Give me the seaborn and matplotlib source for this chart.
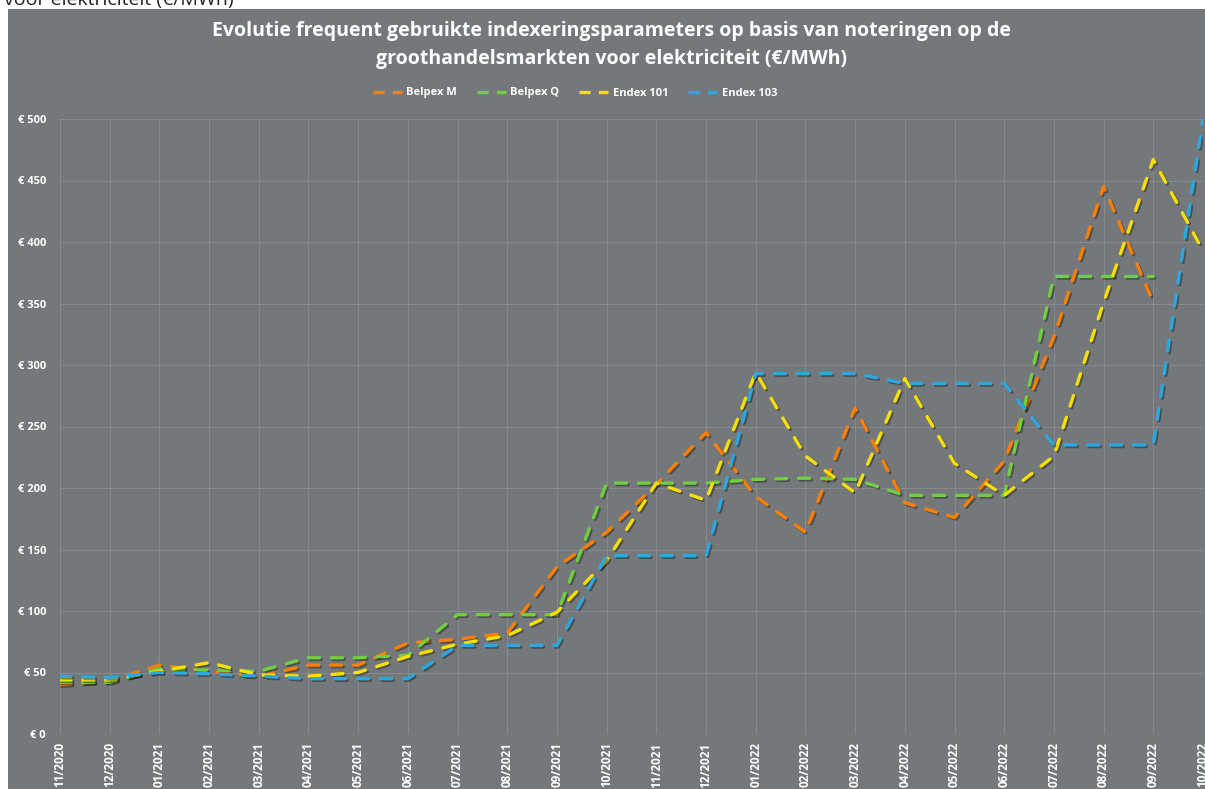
import numpy as np
import pandas as pd
import matplotlib
matplotlib.use('Agg')
import matplotlib.pyplot as plt
import matplotlib.patheffects as pe
from matplotlib.patches import Rectangle
import seaborn as sns


MONTHS = ['11/2020', '12/2020', '01/2021', '02/2021', '03/2021', '04/2021',
          '05/2021', '06/2021', '07/2021', '08/2021', '09/2021', '10/2021',
          '11/2021', '12/2021', '01/2022', '02/2022', '03/2022', '04/2022',
          '05/2022', '06/2022', '07/2022', '08/2022', '09/2022', '10/2022']

BELPEX_M = [40, 43, 56, 51, 47, 56, 56, 74, 77, 82, 136, 164,
            203, 245, 193, 164, 265, 188, 176, 222, 323, 445, 351, np.nan]
BELPEX_Q = [42, 42, 53, 52, 51, 62, 62, 64, 97, 97, 97, 204,
            204, 204, 207, 208, 207, 194, 194, 194, 372, 372, 372, np.nan]
ENDEX_101 = [44, 44, 51, 58, 48, 47, 50, 63, 73, 80, 99, 141,
             204, 190, 294, 226, 196, 289, 220, 194, 226, 351, 467, 393]
ENDEX_103 = [47, 46, 50, 49, 47, 45, 45, 45, 72, 72, 72, 145,
             145, 145, 293, 293, 293, 285, 285, 285, 235, 235, 235, 500]

SERIES = ['Belpex M', 'Belpex Q', 'Endex 101', 'Endex 103']
COLORS = ['#FF8000', '#6FCF3F', '#F7E000', '#2BA8E0']

Y_TICKS = list(range(0, 501, 50))

BG = '#75787B'
GRID = '#868A8D'


def main():
    W, H = 1205, 789
    matplotlib.rcParams['lines.scale_dashes'] = False

    # long form table for seaborn
    frames = []
    for name, vals in zip(SERIES, [BELPEX_M, BELPEX_Q, ENDEX_101, ENDEX_103]):
        frames.append(pd.DataFrame({'idx': np.arange(len(MONTHS)), 'maand': MONTHS,
                                    'waarde': vals, 'reeks': name}))
    data = pd.concat(frames).dropna()

    fig = plt.figure(figsize=(W / 100, H / 100), dpi=100, facecolor='white')
    fig.patches.append(Rectangle((8 / W, 0), 1, 1 - 9 / H, transform=fig.transFigure,
                                 facecolor=BG, edgecolor='none', zorder=-10))
    # text cut off by the top of the screenshot
    fig.text(0.003, 1 - 5 / H, 'voor elektriciteit (€/MWh)', fontsize=14,
             family='Open Sans', color='#222222', ha='left', va='baseline')

    ax = fig.add_axes([60 / W, 1 - 734 / H, (1203 - 60) / W, (734 - 119) / H])
    ax.set_facecolor(BG)

    sns.lineplot(data=data, x='idx', y='waarde', hue='reeks', style='reeks',
                 palette=dict(zip(SERIES, COLORS)),
                 dashes={s: (8, 8.5) for s in SERIES},
                 linewidth=2.4, sort=False, legend=False, ax=ax)
    for line in ax.get_lines():
        line.set_dash_capstyle('round')
        line.set_path_effects([pe.SimpleLineShadow(offset=(1.2, -1.2), alpha=0.35),
                               pe.Normal()])

    ax.set_xlim(0, len(MONTHS) - 1)
    ax.set_ylim(0, 500)
    ax.set_xticks(range(len(MONTHS)))
    ax.set_xticklabels(MONTHS, rotation=90, fontsize=8.5, fontweight='bold',
                       color='white', family='Open Sans')
    ax.set_yticks(Y_TICKS)
    ax.set_yticklabels(['€ %d' % v for v in Y_TICKS], fontsize=8, fontweight='bold',
                       color='white', family='Open Sans')
    ax.tick_params(length=0, pad=10)
    ax.tick_params(axis='x', pad=6)
    ax.grid(True, color=GRID, linewidth=0.8)
    ax.set_axisbelow(True)
    for sp in ax.spines.values():
        sp.set_visible(False)
    ax.set_xlabel('')
    ax.set_ylabel('')

    fig.text(612 / W, 1 - 45 / H,
             'Evolutie frequent gebruikte indexeringsparameters op basis van noteringen op de\n'
             'groothandelsmarkten voor elektriciteit (€/MWh)',
             ha='center', va='center', fontsize=14, fontweight='bold', color='white',
             family='Open Sans', linespacing=1.55)

    handles = [plt.Line2D([], [], color=c, linewidth=2.4, dashes=(8, 6))
               for c in COLORS]
    leg = fig.legend(handles, SERIES, loc='center', bbox_to_anchor=(575 / W, 1 - 93 / H),
                     ncol=4, frameon=False, handlelength=2.6, handletextpad=0.4,
                     columnspacing=1.8, prop={'family': 'Open Sans', 'weight': 'bold',
                                              'size': 8})
    for t in leg.get_texts():
        t.set_color('white')

    fig.savefig('out.png', dpi=100, facecolor=fig.get_facecolor())


if __name__ == '__main__':
    main()
